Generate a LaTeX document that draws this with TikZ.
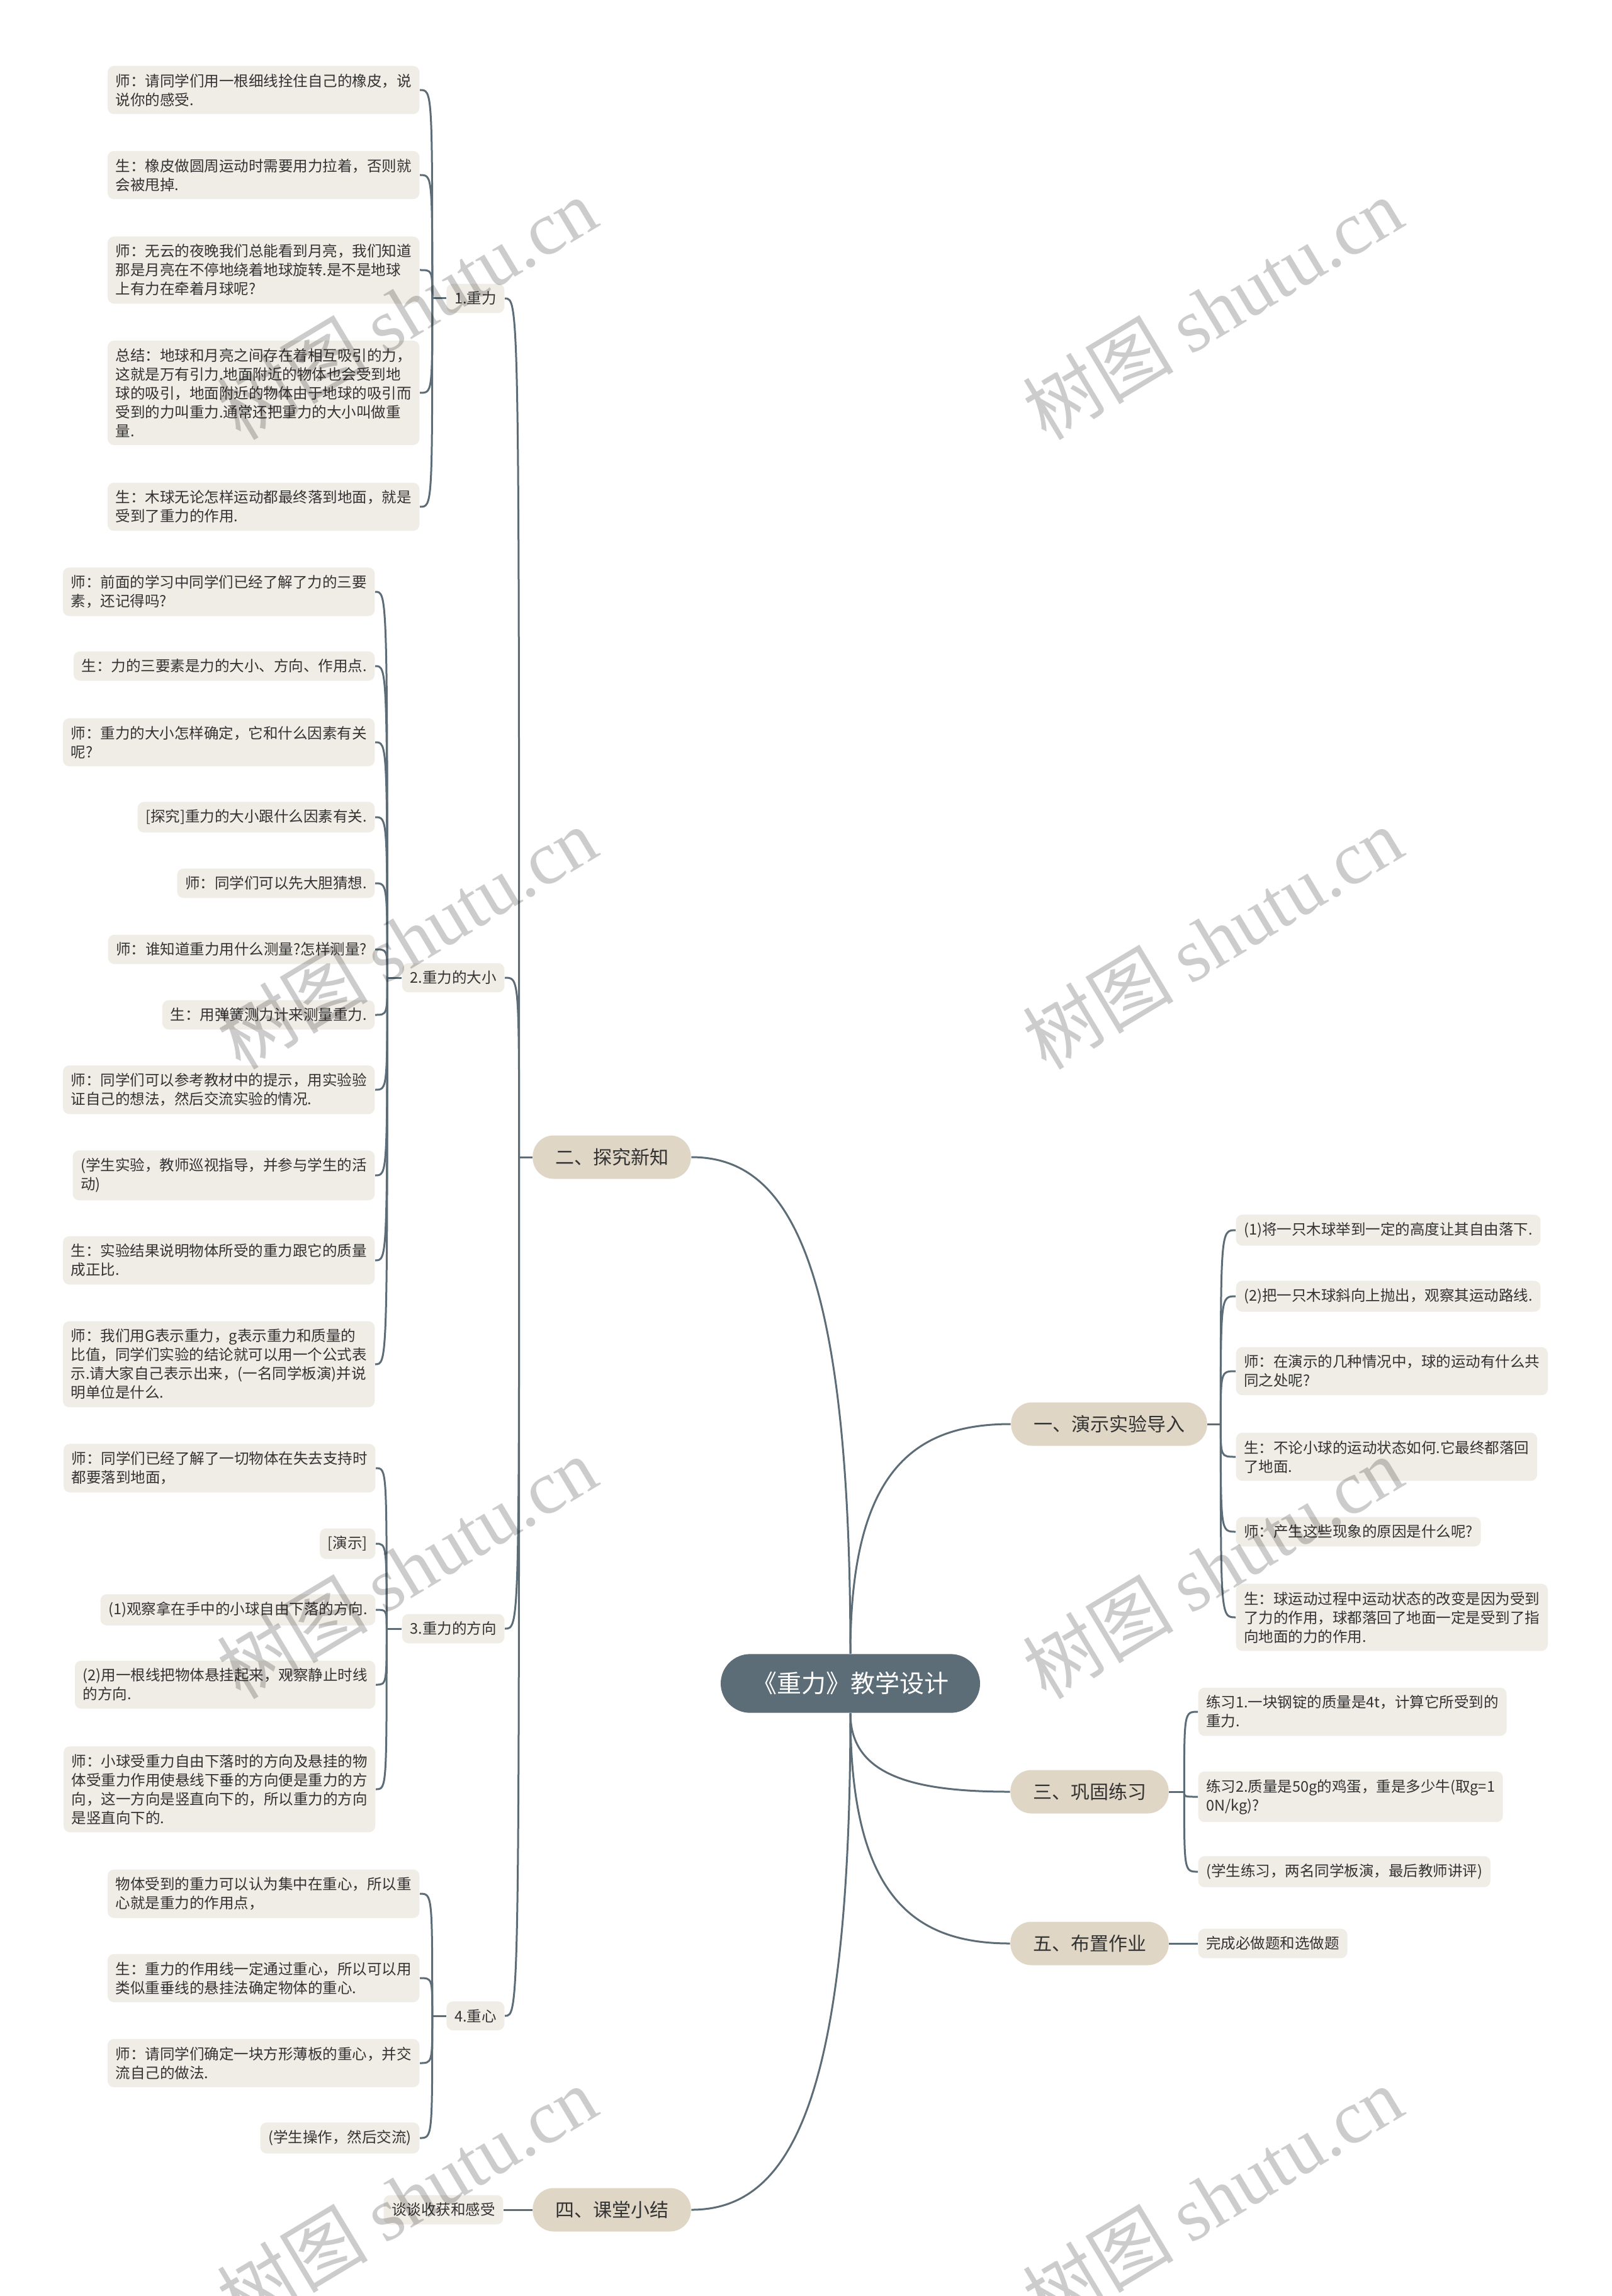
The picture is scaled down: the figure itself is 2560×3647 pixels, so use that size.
\documentclass[tikz,border=0pt]{standalone}
\usepackage{fontspec}
\setmainfont{Noto Sans CJK SC}
\newfontfamily\wmfont{Liberation Serif}
\usetikzlibrary{calc}
\definecolor{SlateC}{RGB}{92,109,120}
\definecolor{MainC}{RGB}{224,214,198}
\definecolor{LeafC}{RGB}{240,237,230}
\definecolor{InkC}{RGB}{51,51,51}

\begin{document}
\begin{tikzpicture}[x=0.3pt,y=-0.3pt,
root/.style={rectangle,rounded corners=14pt,fill=SlateC,text=white,inner xsep=15pt,minimum height=28pt,font=\fontsize{11.7}{14}\selectfont},
main/.style={rectangle,rounded corners=10pt,fill=MainC,text=InkC,inner xsep=10.7pt,minimum height=20.7pt,font=\fontsize{9}{11}\selectfont},
leaf/.style={rectangle,rounded corners=3pt,fill=LeafC,text=InkC,align=left,inner xsep=3.8pt,inner ysep=3.7pt,font=\fontsize{7.05}{9}\selectfont},
link/.style={draw=SlateC,line width=0.9pt},
wm/.style={rotate=31,text=black,opacity=0.2,font=\fontsize{36}{40}\selectfont}]
\fill[white] (0,0) rectangle (2560,3647);
\useasboundingbox (0,0) rectangle (2560,3647);
% centre and main topics
\node[root](r) at (1351,2674) {《重力》教学设计};
\node[main](a) at (972,1838) {二、探究新知};
\node[main](b) at (1762,2262) {一、演示实验导入};
\node[main](c) at (1731,2846) {三、巩固练习};
\node[main](d) at (1731,3087) {五、布置作业};
\node[main](e) at (972,3510) {四、课堂小结};
% sub topics of 二
\node[leaf,anchor=east](a1) at (802,474) {1.重力};
\node[leaf,anchor=east](a2) at (802,1553) {2.重力的大小};
\node[leaf,anchor=east](a3) at (802,2587) {3.重力的方向};
\node[leaf,anchor=east](a4) at (802,3202) {4.重心};
% 1.重力
\node[leaf,anchor=east](a11) at (667,143) {师：请同学们用一根细线拴住自己的橡皮，说\\说你的感受.};
\node[leaf,anchor=east](a12) at (667,278) {生：橡皮做圆周运动时需要用力拉着，否则就\\会被甩掉.};
\node[leaf,anchor=east](a13) at (667,429) {师：无云的夜晚我们总能看到月亮，我们知道\\那是月亮在不停地绕着地球旋转.是不是地球\\上有力在牵着月球呢?};
\node[leaf,anchor=east](a14) at (667,624) {总结：地球和月亮之间存在着相互吸引的力，\\这就是万有引力.地面附近的物体也会受到地\\球的吸引，地面附近的物体由于地球的吸引而\\受到的力叫重力.通常还把重力的大小叫做重\\量.};
\node[leaf,anchor=east](a15) at (667,805) {生：木球无论怎样运动都最终落到地面，就是\\受到了重力的作用.};
% 2.重力的大小
\node[leaf,anchor=east](a21) at (596,940) {师：前面的学习中同学们已经了解了力的三要\\素，还记得吗?};
\node[leaf,anchor=east](a22) at (596,1058) {生：力的三要素是力的大小、方向、作用点.};
\node[leaf,anchor=east](a23) at (596,1179) {师：重力的大小怎样确定，它和什么因素有关\\呢?};
\node[leaf,anchor=east](a24) at (596,1298) {[探究]重力的大小跟什么因素有关.};
\node[leaf,anchor=east](a25) at (596,1403) {师：同学们可以先大胆猜想.};
\node[leaf,anchor=east](a26) at (596,1508) {师：谁知道重力用什么测量?怎样测量?};
\node[leaf,anchor=east](a27) at (596,1612) {生：用弹簧测力计来测量重力.};
\node[leaf,anchor=east](a28) at (596,1731) {师：同学们可以参考教材中的提示，用实验验\\证自己的想法，然后交流实验的情况.};
\node[leaf,anchor=east](a29) at (596,1867) {(学生实验，教师巡视指导，并参与学生的活\\动)};
\node[leaf,anchor=east](a2a) at (596,2002) {生：实验结果说明物体所受的重力跟它的质量\\成正比.};
\node[leaf,anchor=east](a2b) at (596,2167) {师：我们用G表示重力，g表示重力和质量的\\比值，同学们实验的结论就可以用一个公式表\\示.请大家自己表示出来，(一名同学板演)并说\\明单位是什么.};
% 3.重力的方向
\node[leaf,anchor=east](a31) at (597,2332) {师：同学们已经了解了一切物体在失去支持时\\都要落到地面，};
\node[leaf,anchor=east](a32) at (597,2452) {[演示]};
\node[leaf,anchor=east](a33) at (597,2557) {(1)观察拿在手中的小球自由下落的方向.};
\node[leaf,anchor=east](a34) at (597,2676) {(2)用一根线把物体悬挂起来，观察静止时线\\的方向.};
\node[leaf,anchor=east](a35) at (597,2842) {师：小球受重力自由下落时的方向及悬挂的物\\体受重力作用使悬线下垂的方向便是重力的方\\向，这一方向是竖直向下的，所以重力的方向\\是竖直向下的.};
% 4.重心
\node[leaf,anchor=east](a41) at (667,3008) {物体受到的重力可以认为集中在重心，所以重\\心就是重力的作用点，};
\node[leaf,anchor=east](a42) at (667,3142) {生：重力的作用线一定通过重心，所以可以用\\类似重垂线的悬挂法确定物体的重心.};
\node[leaf,anchor=east](a43) at (667,3277) {师：请同学们确定一块方形薄板的重心，并交\\流自己的做法.};
\node[leaf,anchor=east](a44) at (667,3396) {(学生操作，然后交流)};
% 一、演示实验导入
\node[leaf,anchor=west](b1) at (1963,1954) {(1)将一只木球举到一定的高度让其自由落下.};
\node[leaf,anchor=west](b2) at (1963,2059) {(2)把一只木球斜向上抛出，观察其运动路线.};
\node[leaf,anchor=west](b3) at (1963,2178) {师：在演示的几种情况中，球的运动有什么共\\同之处呢?};
\node[leaf,anchor=west](b4) at (1963,2314) {生：不论小球的运动状态如何.它最终都落回\\了地面.};
\node[leaf,anchor=west](b5) at (1963,2433) {师：产生这些现象的原因是什么呢?};
\node[leaf,anchor=west](b6) at (1963,2569) {生：球运动过程中运动状态的改变是因为受到\\了力的作用，球都落回了地面一定是受到了指\\向地面的力的作用.};
% 三、巩固练习 / 五 / 四
\node[leaf,anchor=west](c1) at (1903,2719) {练习1.一块钢锭的质量是4t，计算它所受到的\\重力.};
\node[leaf,anchor=west](c2) at (1903,2854) {练习2.质量是50g的鸡蛋，重是多少牛(取g=1\\0N/kg)?};
\node[leaf,anchor=west](c3) at (1903,2973) {(学生练习，两名同学板演，最后教师讲评)};
\node[leaf,anchor=west](d1) at (1903,3087) {完成必做题和选做题};
\node[leaf,anchor=east](e1) at (800,3510) {谈谈收获和感受};
% junctions
\coordinate (ja) at ($(a.west)+(-21,0)$);
\coordinate (j1) at ($(a1.west)+(-22,0)$);
\coordinate (j2) at ($(a2.west)+(-23,0)$);
\coordinate (j3) at ($(a3.west)+(-24,0)$);
\coordinate (j4) at ($(a4.west)+(-22,0)$);
\coordinate (jb) at ($(b.east)+(21,0)$);
\coordinate (jc) at ($(c.east)+(24,0)$);
% connectors
\foreach \t/\u/\v in {a/north/east,b/north/west,c/south/west,d/south/west,e/south/east}{\draw[link] let \p1=(r.\u),\p2=(\t.\v) in (\p1) .. controls (\x1,{\y1+0.8*(\y2-\y1)}) and ({\x1+0.4*(\x2-\x1)},\y2) .. (\p2);}
\foreach \s/\t in {a/ja,a1/j1,a2/j2,a3/j3,a4/j4}{\draw[link](\s.west)--(\t);}
\foreach \s/\t in {b/jb,c/jc}{\draw[link](\s.east)--(\t);}
\foreach \s/\t in {ja/a1,ja/a2,ja/a3,ja/a4,j1/a11,j1/a12,j1/a13,j1/a14,j1/a15,j2/a21,j2/a22,j2/a23,j2/a24,j2/a25,j2/a26,j2/a27,j2/a28,j2/a29,j2/a2a,j2/a2b,j3/a31,j3/a32,j3/a33,j3/a34,j3/a35,j4/a41,j4/a42,j4/a43,j4/a44}{\draw[link] let \p1=(\s),\p2=(\t.east) in (\p1) .. controls (\x1,\y2) .. (\p2);}
\foreach \s/\t in {jb/b1,jb/b2,jb/b3,jb/b4,jb/b5,jb/b6,jc/c1,jc/c2,jc/c3}{\draw[link] let \p1=(\s),\p2=(\t.west) in (\p1) .. controls (\x1,\y2) .. (\p2);}
\draw[link](d.east)--(d1.west);
\draw[link](e.west)--(e1.east);
% watermark
\foreach \wx/\wy [count=\k] in {646/490,1926/490,646/1490,1926/1490,646/2490,1926/2490,646/3490,1926/3490}{\node[wm](w\k) at (\wx,\wy) {树图 {\wmfont shutu.cn}};}
\end{tikzpicture}
\end{document}
